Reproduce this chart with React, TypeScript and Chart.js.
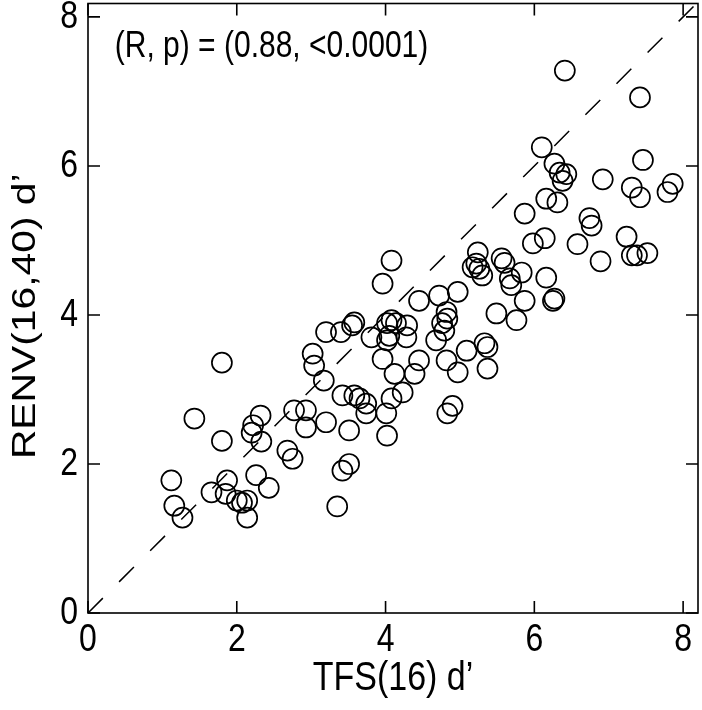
import React, { useEffect, useRef } from "react";
import { Chart, registerables } from "chart.js";

Chart.register(...registerables);

// ---- data ----
const tfsValues: number[] = [
  1.8, 1.43, 1.8, 2.32, 2.22, 2.2, 2.33, 2.77, 2.93, 2.93, 2.68, 2.75,
  1.12, 1.16, 1.27, 1.66, 1.87, 1.85, 2.0, 2.07, 2.14, 2.14, 2.26, 2.43,
  4.08, 3.96, 4.45, 4.72, 4.97, 4.82, 4.83, 4.76, 4.79, 4.68,
  3.2, 3.4, 3.55, 3.58, 3.81, 4.02, 4.08, 4.14, 4.29, 4.05, 4.02, 4.28,
  3.96, 4.45, 3.02, 3.04, 3.17, 4.12, 4.39, 4.82, 4.97,
  3.42, 3.58, 3.65, 3.74, 3.74, 4.08, 4.23, 4.01, 4.02, 3.2, 3.51, 3.51,
  3.42, 3.35, 4.9, 4.83,
  5.24, 5.22, 5.26, 5.3, 5.17, 5.56, 5.6, 5.83, 5.67, 5.69, 6.16, 6.27,
  6.25, 5.87, 5.49, 5.76, 5.09, 5.33, 5.37, 5.37,
  6.1, 6.27, 6.34, 6.38, 6.43, 6.16, 6.31, 5.87, 5.98, 6.14, 6.58, 6.74, 6.77,
  6.41, 7.42, 7.46, 6.92, 7.31, 7.42, 7.86, 7.79, 7.24, 7.31, 7.38, 7.52, 6.89,
];
const renvValues: number[] = [
  3.36, 2.61, 2.31, 2.65, 2.52, 2.42, 2.3, 2.72, 2.72, 2.49, 2.18, 2.07,
  1.78, 1.44, 1.28, 1.62, 1.78, 1.6, 1.51, 1.48, 1.51, 1.28, 1.85, 1.68,
  4.73, 4.42, 4.19, 4.26, 4.31, 4.04, 3.95, 3.89, 3.79, 3.66,
  3.77, 3.77, 3.86, 3.9, 3.7, 3.89, 3.93, 3.89, 3.86, 3.72, 3.66, 3.7,
  3.41, 3.39, 3.48, 3.32, 3.12, 3.21, 3.21, 3.39, 3.23,
  2.92, 2.92, 2.88, 2.81, 2.68, 2.88, 2.96, 2.68, 2.38, 2.56, 2.45, 2.0,
  1.91, 1.43, 2.78, 2.68,
  4.84, 4.69, 4.62, 4.53, 4.64, 4.76, 4.7, 4.57, 4.49, 4.4, 4.5, 4.22,
  4.19, 4.19, 4.02, 3.93, 3.52, 3.62, 3.57, 3.28,
  6.25, 6.03, 5.91, 5.8, 5.89, 5.56, 5.51, 5.36, 4.96, 5.03, 4.95, 5.3, 5.2,
  7.28, 6.92, 6.08, 5.82, 5.71, 5.58, 5.76, 5.65, 5.05, 4.8, 4.8, 4.83, 4.72,
];
const tickValues: number[] = [0, 2, 4, 6, 8];
const tickLabels: string[] = ["0", "2", "4", "6", "8"];
const identityLine: number[] = [0, 8.4];
const xRange: number[] = [0, 8.2];
const yRange: number[] = [0, 8.18];
const annotationText = "(R, p) = (0.88, <0.0001)";
const annotationAt: number[] = [0.36, 7.6];
const xTitle = "TFS(16) d\u2019";
const yTitle = "RENV(16,40) d\u2019";

const FONT = '"Liberation Sans", Arial, Helvetica, sans-serif';
const STRETCH = 1.2;

function stretchedText(
  ctx: CanvasRenderingContext2D,
  text: string,
  x: number,
  y: number,
  size: number,
  align: CanvasTextAlign,
  rotate = 0
) {
  ctx.save();
  ctx.translate(x, y);
  if (rotate) {
    ctx.rotate(rotate);
    ctx.scale(STRETCH, 1);
  } else {
    ctx.scale(1, STRETCH);
  }
  ctx.font = `${size}px ${FONT}`;
  ctx.textAlign = align;
  ctx.textBaseline = "middle";
  ctx.fillText(text, 0, 0);
  ctx.restore();
}

const framePlugin = {
  id: "frameTicks",
  afterDatasetsDraw(chart: any) {
    const { ctx, chartArea: a, scales } = chart;
    ctx.save();
    ctx.strokeStyle = "#000";
    ctx.lineWidth = 1.6;
    ctx.strokeRect(a.left, a.top, a.right - a.left, a.bottom - a.top);
    const L = 12;
    ctx.beginPath();
    tickValues.forEach((v) => {
      const x = scales.x.getPixelForValue(v);
      ctx.moveTo(x, a.bottom);
      ctx.lineTo(x, a.bottom - L);
      ctx.moveTo(x, a.top);
      ctx.lineTo(x, a.top + L);
      const y = scales.y.getPixelForValue(v);
      ctx.moveTo(a.left, y);
      ctx.lineTo(a.left + L, y);
      ctx.moveTo(a.right, y);
      ctx.lineTo(a.right - L, y);
    });
    ctx.stroke();
    ctx.fillStyle = "#000";
    tickValues.forEach((v, i) => {
      stretchedText(ctx, tickLabels[i], scales.x.getPixelForValue(v), a.bottom + 27, 32, "center");
      stretchedText(ctx, tickLabels[i], a.left - 10, scales.y.getPixelForValue(v), 32, "right");
    });
    stretchedText(ctx, xTitle, (a.left + a.right) / 2, a.bottom + 66, 34, "center");
    stretchedText(ctx, yTitle, 26, (a.top + a.bottom) / 2 + 8, 34, "center", -Math.PI / 2);
    stretchedText(
      ctx,
      annotationText,
      scales.x.getPixelForValue(annotationAt[0]),
      scales.y.getPixelForValue(annotationAt[1]),
      30,
      "left"
    );
    ctx.restore();
  },
};

export default function App() {
  const ref = useRef<HTMLCanvasElement | null>(null);
  useEffect(() => {
    document.body.style.margin = "0";
    const canvas = ref.current;
    if (!canvas) return;
    const points = tfsValues.map((x, i) => ({ x, y: renvValues[i] }));
    const chart = new Chart(canvas, {
      type: "scatter",
      data: {
        datasets: [
          {
            type: "line",
            data: identityLine.map((v) => ({ x: v, y: v })),
            borderColor: "#000",
            borderWidth: 1.5,
            borderDash: [21, 23],
            pointRadius: 0,
            fill: false,
          } as any,
          {
            data: points,
            pointStyle: "circle",
            pointRadius: 10,
            pointHoverRadius: 10,
            borderWidth: 1.7,
            borderColor: "#000",
            backgroundColor: "rgba(0,0,0,0)",
          },
        ],
      },
      options: {
        responsive: false,
        animation: false,
        events: [],
        layout: { autoPadding: false, padding: { top: 3.5, right: 4, left: 0, bottom: 0 } },
        plugins: { legend: { display: false }, tooltip: { enabled: false } },
        scales: {
          x: {
            type: "linear",
            min: xRange[0],
            max: xRange[1],
            grid: { display: false, drawTicks: false },
            border: { display: false },
            afterBuildTicks: (s: any) => {
              s.ticks = tickValues.map((v) => ({ value: v }));
            },
            afterFit: (s: any) => {
              s.height = 97;
              s.paddingLeft = 0;
              s.paddingRight = 0;
              s.paddingTop = 0;
              s.paddingBottom = 0;
            },
            ticks: { display: false },
            title: { display: false, text: xTitle },
          },
          y: {
            type: "linear",
            min: yRange[0],
            max: yRange[1],
            grid: { display: false, drawTicks: false },
            border: { display: false },
            afterBuildTicks: (s: any) => {
              s.ticks = tickValues.map((v) => ({ value: v }));
            },
            afterFit: (s: any) => {
              s.width = 88;
              s.paddingLeft = 0;
              s.paddingRight = 0;
              s.paddingTop = 0;
              s.paddingBottom = 0;
            },
            ticks: { display: false },
            title: { display: false, text: yTitle },
          },
        },
      },
      plugins: [framePlugin],
    });
    return () => chart.destroy();
  }, []);
  return <canvas ref={ref} width={702} height={710} style={{ display: "block" }} />;
}
